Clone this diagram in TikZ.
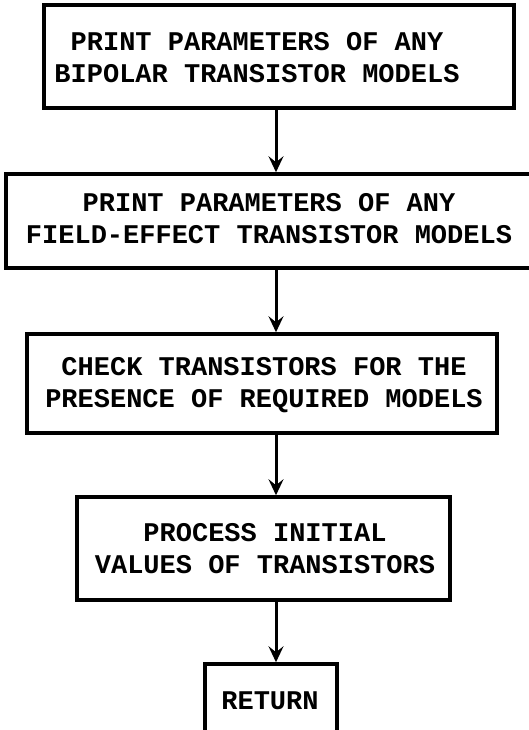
\documentclass[tikz,border=0pt]{standalone}
\usepackage{fontspec}
\setmonofont{Liberation Mono}
\usetikzlibrary{arrows.meta}
\tikzset{
  stepbox/.style={draw, line width=3.5pt, inner sep=0pt},
  steptext/.style={font=\ttfamily\bfseries\fontsize{27}{32}\selectfont, align=center, inner sep=0pt},
  flow/.style={line width=3pt, -{Stealth[length=16pt,width=15pt,inset=6pt]}}
}
\begin{document}
\begin{tikzpicture}[x=1pt, y=-1pt]
  \useasboundingbox (0,0) rectangle (528,730);
  \coordinate (spine) at (276,0);
  % boxes
  \node[stepbox, minimum width=470pt, minimum height=103pt] (bjt) at (279,56.5) {};
  \node[stepbox, minimum width=528pt, minimum height=94pt] (fet) at (270,221) {};
  \node[stepbox, minimum width=470pt, minimum height=99pt] (check) at (262,383.5) {};
  \node[stepbox, minimum width=373pt, minimum height=103pt] (init) at (263.5,548.5) {};
  \node[stepbox, minimum width=132pt, minimum height=76pt] (ret) at (271,702) {};
  % texts
  \node[steptext] (bjt text) at (257,58) {PRINT PARAMETERS OF ANY\\BIPOLAR TRANSISTOR MODELS};
  \node[steptext] (fet text) at (269,219) {PRINT PARAMETERS OF ANY\\FIELD-EFFECT TRANSISTOR MODELS};
  \node[steptext] (check text) at (264,385) {CHECK TRANSISTORS FOR THE\\PRESENCE OF REQUIRED MODELS};
  \node[steptext] (init text) at (265,549) {PROCESS INITIAL\\VALUES OF TRANSISTORS};
  \node[steptext] (ret text) at (270,701) {RETURN};
  % flow lines
  \draw[flow] (bjt.south -| spine) -- (fet.north -| spine);
  \draw[flow] (fet.south -| spine) -- (check.north -| spine);
  \draw[flow] (check.south -| spine) -- (init.north -| spine);
  \draw[flow] (init.south -| spine) -- (ret.north -| spine);
\end{tikzpicture}
\end{document}
